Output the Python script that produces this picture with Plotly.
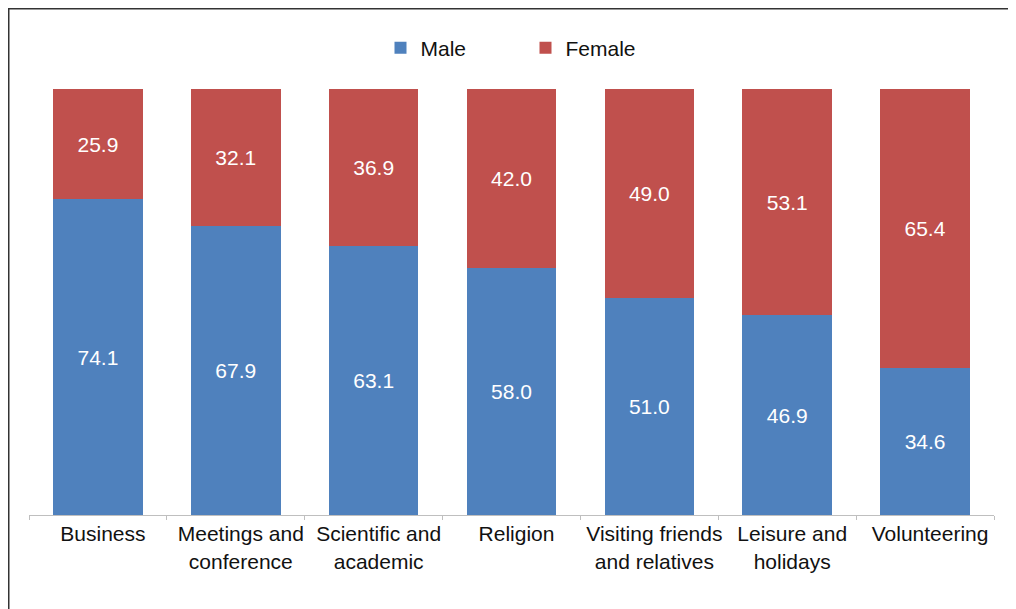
import plotly.graph_objects as go

categories = ["Business", "Meetings and<br>conference", "Scientific and<br>academic", "Religion",
              "Visiting friends<br>and relatives", "Leisure and<br>holidays", "Volunteering"]
male = [74.1, 67.9, 63.1, 58.0, 51.0, 46.9, 34.6]
female = [25.9, 32.1, 36.9, 42.0, 49.0, 53.1, 65.4]

W, H = 1016, 609
OFF = 8  # page body margin
L, T = 29 - OFF, 89 - OFF
pw, ph = 965, 426
R = W - L - pw
B = H - T - ph

fig = go.Figure()
fig.add_trace(go.Bar(x=categories, y=male, name="Male", marker=dict(color="#4F81BD", line=dict(width=0)),
                     texttemplate="%{y:.1f}", textposition="inside", insidetextanchor="middle",
                     textfont=dict(color="white", size=21), textangle=0))
fig.add_trace(go.Bar(x=categories, y=female, name="Female", marker=dict(color="#C0504D", line=dict(width=0)),
                     texttemplate="%{y:.1f}", textposition="inside", insidetextanchor="middle",
                     textfont=dict(color="white", size=21), textangle=0))

x0 = (0.5 - L) / pw
y1 = (ph + T - 0.5) / ph
fig.add_shape(type="rect", xref="paper", yref="paper", x0=x0, x1=1.2, y0=-0.6, y1=y1,
              line=dict(color="#333333", width=2), fillcolor="rgba(0,0,0,0)", layer="above")

fig.update_layout(
    width=W, height=H,
    margin=dict(l=L, r=R, t=T, b=B, autoexpand=False),
    barmode="stack", bargap=0.35,
    uniformtext=dict(mode="show", minsize=10),
    paper_bgcolor="white", plot_bgcolor="white",
    font=dict(family="Liberation Sans, Arial, sans-serif", size=21, color="#111111"),
    showlegend=True,
    legend=dict(orientation="h", x=0.5 + 14 / pw, xanchor="center", y=(ph + T - 48 + OFF) / ph, yanchor="middle",
                font=dict(size=21), entrywidth=100, entrywidthmode="pixels", traceorder="normal",
                itemwidth=30),
    xaxis=dict(showline=True, linecolor="#BFBFBF", linewidth=1, ticks="outside", tickson="boundaries",
               ticklen=4, tickcolor="#BFBFBF", tickfont=dict(size=21), showgrid=False, ticklabelshift=5,
               tickangle=0, automargin=False),
    yaxis=dict(range=[0, 100], visible=False, showgrid=False, automargin=False),
)

fig.write_html("out.html")
